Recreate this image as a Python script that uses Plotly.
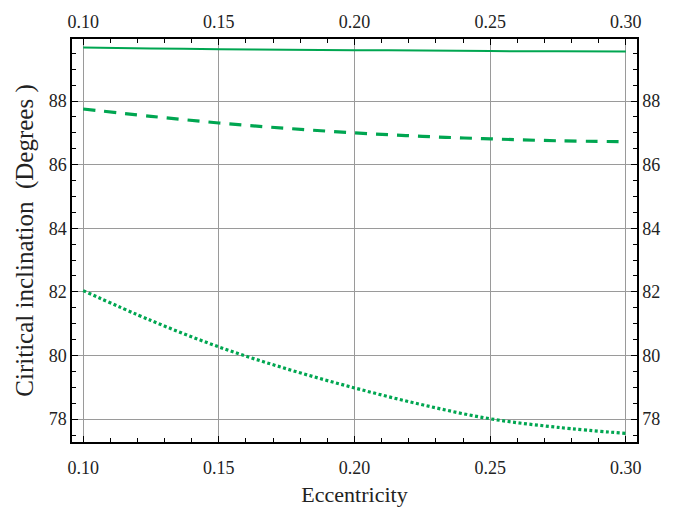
import plotly.graph_objects as go

ecc = [0.100, 0.125, 0.150, 0.175, 0.200, 0.225, 0.250, 0.275, 0.300]
solid_vals = [89.68, 89.655, 89.63, 89.615, 89.60, 89.585, 89.57, 89.565, 89.56]
dashed_vals = [87.75, 87.52, 87.31, 87.14, 87.00, 86.89, 86.81, 86.75, 86.72]
dotted_vals = [82.04, 81.10, 80.27, 79.58, 78.98, 78.45, 78.01, 77.74, 77.55]

x_ticks = [0.10, 0.15, 0.20, 0.25, 0.30]
x_labels = ["0.10", "0.15", "0.20", "0.25", "0.30"]
y_ticks = [78, 80, 82, 84, 86, 88]
y_labels = ["78", "80", "82", "84", "86", "88"]

GREEN = "#00a651"
FONT = "Liberation Serif"
XR = [0.0959, 0.3041]
YR = [77.28, 89.95]

fig = go.Figure()
fig.add_trace(go.Scatter(x=ecc, y=solid_vals, mode="lines", line=dict(color=GREEN, width=2), line_shape="spline", showlegend=False))
fig.add_trace(go.Scatter(x=ecc, y=dashed_vals, mode="lines", line=dict(color=GREEN, width=3.2, dash="12px,9px"), line_shape="spline", showlegend=False))
fig.add_trace(go.Scatter(x=ecc, y=dotted_vals, mode="lines", line=dict(color=GREEN, width=3.2, dash="3px,2.5px"), line_shape="spline", showlegend=False))
# helper trace to activate the mirrored (top/right) labelled axes
fig.add_trace(go.Scatter(x=ecc, y=solid_vals, xaxis="x2", yaxis="y2", mode="lines", opacity=0, hoverinfo="skip", showlegend=False))

common = dict(showline=True, linecolor="black", linewidth=1.5, ticks="inside", ticklen=6, automargin=False,
              tickcolor="black", tickfont=dict(family=FONT, size=18, color="#222"), zeroline=False)

fig.update_layout(
    width=674, height=507,
    margin=dict(l=72, r=37, t=39, b=65),
    paper_bgcolor="white", plot_bgcolor="white",
    xaxis=dict(range=XR, tickvals=x_ticks, ticktext=x_labels, showgrid=True, gridcolor="#9a9a9a", gridwidth=1,
               minor=dict(dtick=0.01, tick0=0.10, ticks="inside", ticklen=4, tickcolor="black", showgrid=False),
               title=dict(text="Eccentricity", font=dict(family=FONT, size=22, color="#222"), standoff=12),
               ticklabelstandoff=9,
               **common),
    yaxis=dict(range=YR, tickvals=y_ticks, ticktext=y_labels, showgrid=True, gridcolor="#9a9a9a", gridwidth=1,
               minor=dict(dtick=0.5, tick0=78, ticks="inside", ticklen=4, tickcolor="black", showgrid=False),
               title=dict(text="Ciritical inclination&nbsp; (Degrees )", font=dict(family=FONT, size=25, color="#222"), standoff=8),
               **common),
    xaxis2=dict(range=XR, overlaying="x", side="top", anchor="y", tickvals=x_ticks, ticktext=x_labels, showgrid=False,
                minor=dict(dtick=0.01, tick0=0.10, ticks="inside", ticklen=4, tickcolor="black"),
                ticklabelstandoff=2,
                **common),
    yaxis2=dict(range=YR, overlaying="y", side="right", anchor="x", tickvals=y_ticks, ticktext=y_labels, showgrid=False,
                minor=dict(dtick=0.5, tick0=78, ticks="inside", ticklen=4, tickcolor="black"),
                **common),
)

fig.write_html("out.html")
